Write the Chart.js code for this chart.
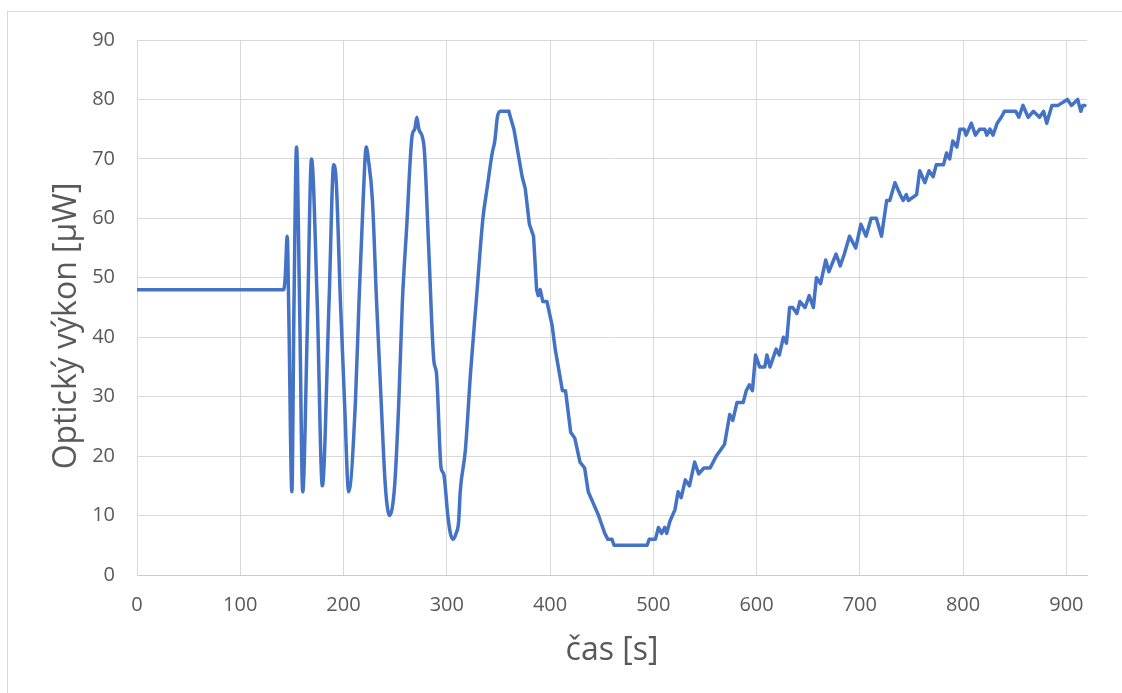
<!DOCTYPE html>
<html>
<head>
<meta charset="utf-8">
<script src="https://cdn.jsdelivr.net/npm/chart.js@4/dist/chart.umd.min.js"></script>
<style>
    body { margin: 0; background: #fff; }
    #wrap { position: relative; width: 1122px; height: 693px; background: #fff; }
    #frame { position: absolute; left: 7px; top: 11px; right: 0; bottom: 0; border-top: 1px solid #d9d9d9; border-left: 1px solid #d9d9d9; }
    #myChart { position: absolute; left: 0; top: 0; }
</style>
</head>
<body>
<div id="wrap">
    <div id="frame"></div>
    <canvas id="myChart" width="1122" height="693"></canvas>
</div>
<script>
// time [s]
const times = [0,142,143.5,145.5,147,150,152,154.5,157.5,160.5,
    165,169,174.5,179.5,186,190.5,193,197,201,205,
    211.5,215,219,222,224,228,232,236.5,240.5,244.5,
    249.5,253.5,257,261,266.5,269,271,273,278,282.5,
    287.5,290,294.5,297,301,303.5,306,309,311.5,313,
    318,323,328.5,335,339,344,346.5,349,352,360,
    365,368,373,376,380,384,387,388.5,390.5,393,
    397,402,405,409,412,415,420,424,429,433.5,
    437,442,447,449,453,456,460,462,494,496,
    502,505,508,511,513,516,521,524,527,531,
    535,540,544,549,555,558,561,565,569,574,
    577,581,587,590,593,596,599,603,608,610,
    613,619,622,626,629,632,635,639,642,647,
    651,655,658,662,667,670,677,681,685,690,
    693,696,701,706,711,716,721,726,729,734,
    739,742,745,747,755,758,763,767,771,774,
    781,784,787,790,794,797,801,803,808,812,
    816,821,823,826,829,833,837,840,851,854,
    858,863,868,874,878,881,886,892,901,905,
    911,914,916,918]

// optical power [uW]
const power = [48,48,50,57,44,14,45,72,45,14,
    42,70,46,15,46,69,66,46,29,14,
    29,46,63,72,70,63,46,29,15,10,
    15,29,46,58,74,75,77,75,72,55,
    36,34,18,17,10,7,6,7,9,14,
    21,34,46,60,65,71,73,77,78,78,
    75,72,67,65,59,57,48,47,48,46,
    46,42,38,34,31,31,24,23,19,18,
    14,12,10,9,7,6,6,5,5,6,
    6,8,7,8,7,9,11,14,13,16,
    15,19,17,18,18,19,20,21,22,27,
    26,29,29,31,32,31,37,35,35,37,
    35,38,37,40,39,45,45,44,46,45,
    47,45,50,49,53,51,54,52,54,57,
    56,55,59,57,60,60,57,63,63,66,
    64,63,64,63,64,68,66,68,67,69,
    69,71,70,73,72,75,75,74,76,74,
    75,75,74,75,74,76,77,78,78,77,
    79,77,78,77,78,76,79,79,80,79,
    80,78,79,79]

const xTitle = 'čas [s]'
const yTitle = 'Optický výkon [µW]'
const xMax = 920
const yMax = 90
// the swinging part is drawn smooth, the slow stepped part straight
const smoothEnd = 360

const textColor = '#595959'
const gridColor = '#d9d9d9'
const lineColor = '#4472C4'

// axis titles placed by hand, like the Excel original
const axisTitles = {
    id: 'axisTitles',
    afterDraw(chart) {
        const ctx = chart.ctx
        const area = chart.chartArea
        ctx.save()
        ctx.fillStyle = textColor
        ctx.font = '32px "Open Sans"'
        ctx.textAlign = 'center'
        ctx.textBaseline = 'middle'
        ctx.fillText(xTitle, (area.left + area.right) / 2, 651)
        ctx.translate(67, 326)
        ctx.rotate(-Math.PI / 2)
        ctx.fillText(yTitle, 0, 0)
        ctx.restore()
    }
}

const points = times.map((t, i) => ({ x: t, y: power[i] }))
const smoothPart = points.filter((p) => p.x <= smoothEnd)
const stepPart = points.filter((p) => p.x >= smoothEnd)

const lineStyle = {
    borderColor: lineColor,
    backgroundColor: lineColor,
    borderWidth: 3.5,
    pointRadius: 0,
    borderJoinStyle: 'round',
    borderCapStyle: 'round',
}

const ctx = document.getElementById('myChart').getContext('2d')

const config = {
    type: 'line',
    data: {
        datasets: [
            { ...lineStyle, label: yTitle, data: smoothPart, cubicInterpolationMode: 'monotone' },
            { ...lineStyle, label: yTitle, data: stepPart, tension: 0 },
        ]
    },
    options: {
        responsive: false,
        animation: false,
        layout: {
            padding: { left: 0, top: 40, right: 35, bottom: 0 }
        },
        plugins: {
            legend: { display: false },
            tooltip: { enabled: false },
        },
        scales: {
            x: {
                type: 'linear',
                min: 0,
                max: xMax,
                afterFit: (scale) => { scale.height = 118 },
                ticks: {
                    stepSize: 100,
                    includeBounds: false,
                    padding: 18,
                    color: textColor,
                    font: { family: 'Open Sans', size: 20 },
                    maxRotation: 0,
                },
                grid: {
                    color: gridColor,
                    lineWidth: 1,
                    drawTicks: false,
                },
                border: { color: '#cccccc', width: 1 },
            },
            y: {
                min: 0,
                max: yMax,
                afterFit: (scale) => { scale.width = 137 },
                ticks: {
                    stepSize: 10,
                    padding: 22,
                    color: textColor,
                    font: { family: 'Open Sans', size: 20 },
                },
                grid: {
                    color: gridColor,
                    lineWidth: 1,
                    drawTicks: false,
                },
                border: { color: gridColor, width: 1 },
            },
        },
    },
    plugins: [axisTitles],
}

const myChart = new Chart(ctx, config)
</script>
</body>
</html>
